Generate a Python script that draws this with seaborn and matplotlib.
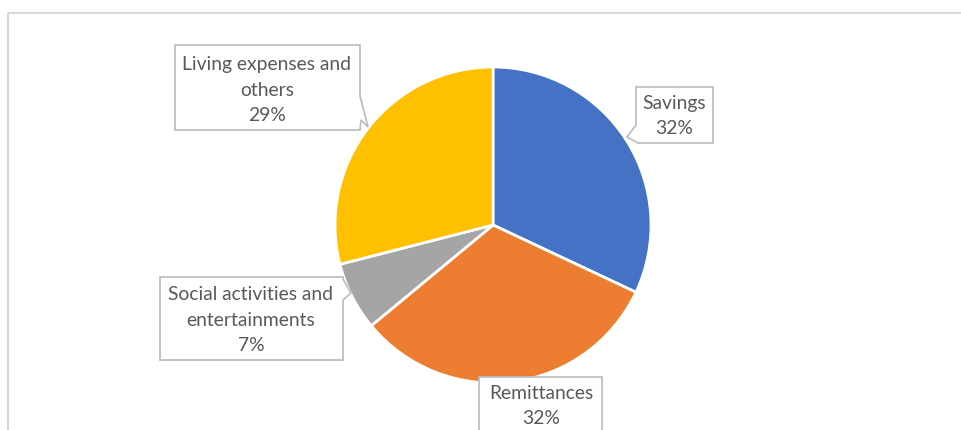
import matplotlib
matplotlib.use("Agg")
import matplotlib.pyplot as plt
from matplotlib.patches import Polygon, Rectangle
import seaborn as sns
import pandas as pd

# Spending breakdown
categories = ["Savings", "Remittances", "Social activities and\nentertainments", "Living expenses and\nothers"]
shares = [32, 32, 7, 29]
colors = ["#4472C4", "#ED7D31", "#A5A5A5", "#FFC000"]

df = pd.DataFrame({"category": categories, "share": shares})

sns.set_theme(style="white")
plt.rcParams["font.family"] = ["Lato", "DejaVu Sans"]

W, H = 961, 430
fig = plt.figure(figsize=(W / 100, H / 100), dpi=100)
ax = fig.add_axes([0, 0, 1, 1])

# Pie in pixel-like coordinates (y grows downward), clockwise from 12 o'clock
cx, cy, r = 493, 225, 158
wedges, _ = ax.pie(
    df["share"], colors=colors, startangle=-90, counterclock=True,
    center=(cx, cy), radius=r,
    wedgeprops=dict(edgecolor="white", linewidth=2),
)

ax.set_xlim(0, W)
ax.set_ylim(H, 0)
ax.set_aspect("equal")
ax.axis("off")

# Chart area border
ax.add_patch(Rectangle((8, 13), 1000, 500, fill=False, edgecolor="#D9D9D9", lw=1.5))

box_edge = "#BFBFBF"
text_color = "#595959"
fs = 13.9


def callout(pts):
    ax.add_patch(Polygon(pts, closed=True, facecolor="white", edgecolor=box_edge, lw=1.3, zorder=3))


# Living expenses callout (pointer on right side)
callout([(175, 45), (360, 45), (360, 96), (368, 127), (361, 120), (360, 130), (175, 130)])
# Savings callout (pointer on left side)
callout([(636, 87), (713, 87), (713, 143), (638, 143), (627, 137), (636, 125)])
# Social activities callout (pointer on right side)
callout([(160, 277), (343, 277), (343, 279), (351, 293), (343, 300), (343, 360), (160, 360)])
# Remittances callout
callout([(479, 377), (602, 377), (602, 460), (479, 460)])

labels = [f"{c}\n{v}%" for c, v in zip(df["category"], df["share"])]
label_pos = [(674, 116), (541, 406), (251, 320), (267, 90)]
for txt, (x, y) in zip(labels, label_pos):
    ax.text(x, y, txt, ha="center", va="center", fontsize=fs, color=text_color,
            linespacing=1.62, zorder=4)

fig.savefig("out.png", dpi=100)
